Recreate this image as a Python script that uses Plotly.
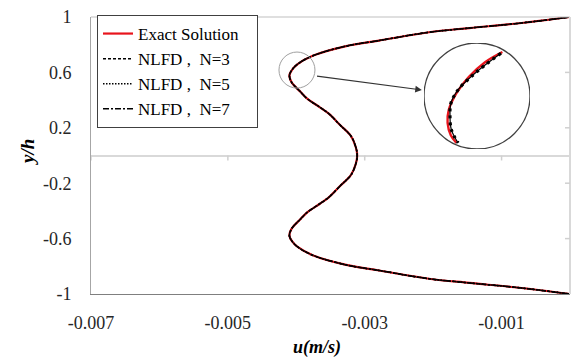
import plotly.graph_objects as go

# ---------------- data ----------------
y_h = [-1.0, -0.955, -0.92, -0.89, -0.83, -0.79, -0.72, -0.66, -0.62, -0.58,
       -0.53, -0.46, -0.41, -0.35, -0.30, -0.22, -0.14, -0.06, 0.0,
       0.06, 0.14, 0.22, 0.30, 0.35, 0.41, 0.46, 0.53, 0.58, 0.62,
       0.66, 0.72, 0.79, 0.83, 0.89, 0.92, 0.955, 1.0]
u_exact = [0.0, -0.00074, -0.00147, -0.00206, -0.00279, -0.00327, -0.00376, -0.00398, -0.00406, -0.00410,
           -0.00407, -0.00394, -0.00384, -0.00366, -0.00352, -0.00336, -0.00320, -0.00313, -0.00311,
           -0.00313, -0.00320, -0.00336, -0.00352, -0.00366, -0.00384, -0.00394, -0.00407, -0.00410, -0.00406,
           -0.00398, -0.00376, -0.00327, -0.00279, -0.00206, -0.00147, -0.00074, 0.0]
u_nlfd3 = list(u_exact)
u_nlfd5 = list(u_exact)
u_nlfd7 = list(u_exact)

# zoomed detail (inset)
inset_y_exact = [0.725, 0.700, 0.664, 0.624, 0.583, 0.551, 0.521, 0.502]
inset_u_exact = [-0.003864, -0.003950, -0.004030, -0.004092, -0.004130, -0.004136, -0.004120, -0.004092]
inset_y_nlfd = [0.722, 0.693, 0.664, 0.632, 0.600, 0.565, 0.534, 0.502]
inset_u_nlfd = [-0.003871, -0.003950, -0.004020, -0.004084, -0.004119, -0.004124, -0.004117, -0.004084]

x_ticks = [-0.007, -0.005, -0.003, -0.001]
x_tick_text = ["-0.007", "-0.005", "-0.003", "-0.001"]
y_ticks = [-1, -0.6, -0.2, 0.2, 0.6, 1]
y_tick_text = ["-1", "-0.6", "-0.2", "0.2", "0.6", "1"]

names = ["Exact Solution\u00a0\u00a0\u00a0", "NLFD\u00a0,\u00a0\u00a0N=3", "NLFD\u00a0,\u00a0\u00a0N=5", "NLFD\u00a0,\u00a0\u00a0N=7"]

# ---------------- figure ----------------
RED = "#e8141c"
SERIF = "'Liberation Serif', 'Times New Roman', 'DejaVu Serif', serif"

fig = go.Figure()
fig.add_trace(go.Scatter(x=u_exact, y=y_h, mode="lines", name=names[0],
                         line=dict(color=RED, width=2.2, shape="spline")))
fig.add_trace(go.Scatter(x=u_nlfd3, y=y_h, mode="lines", name=names[1],
                         line=dict(color="black", width=1.5, dash="3px,2px", shape="spline")))
fig.add_trace(go.Scatter(x=u_nlfd5, y=y_h, mode="lines", name=names[2],
                         line=dict(color="black", width=1.5, dash="1.5px,1.5px", shape="spline")))
fig.add_trace(go.Scatter(x=u_nlfd7, y=y_h, mode="lines", name=names[3],
                         line=dict(color="black", width=1.5, dash="6px,2px,2px,2px", shape="spline")))

# inset traces
fig.add_trace(go.Scatter(x=inset_u_exact, y=inset_y_exact, mode="lines", showlegend=False,
                         line=dict(color=RED, width=2.4, shape="spline"), xaxis="x3", yaxis="y3"))
fig.add_trace(go.Scatter(x=inset_u_nlfd, y=inset_y_nlfd, mode="lines", showlegend=False,
                         line=dict(color="black", width=1.2, shape="spline"), xaxis="x3", yaxis="y3"))
fig.add_trace(go.Scatter(x=inset_u_nlfd, y=inset_y_nlfd, mode="lines", showlegend=False,
                         line=dict(color="black", width=3.2, dash="3px,4px", shape="spline"), xaxis="x3", yaxis="y3"))

# geometry
L, R, T, B = 91, 3, 17, 64
W, H = 573, 358
PW, PH = W - L - R, H - T - B

c_u, c_y = -0.00399, 0.617      # centre of the magnified region
h_u, h_y = 0.000263, 0.130      # half-size of the magnified region
big_cx, big_cy, big_r = 477, 96, 53  # inset circle in pixels

def px2paper_x(px):
    return (px - L) / PW

def py2paper_y(py):
    return (H - B - py) / PH

shapes = [
    dict(type="line", xref="paper", yref="paper", x0=0, x1=1, y0=1, y1=1,
         line=dict(color="#bfbfbf", width=1)),
    dict(type="line", xref="paper", yref="paper", x0=1, x1=1, y0=0, y1=1,
         line=dict(color="#d9d9d9", width=2)),
    dict(type="circle", xref="x", yref="y", x0=c_u - h_u, x1=c_u + h_u, y0=c_y - h_y, y1=c_y + h_y,
         line=dict(color="#a0a0a0", width=1)),
    dict(type="circle", xref="x3", yref="y3", x0=c_u - h_u, x1=c_u + h_u, y0=c_y - h_y, y1=c_y + h_y,
         line=dict(color="#404040", width=1.3)),
]
for xt in x_ticks:
    shapes.append(dict(type="line", xref="x", yref="y", ysizemode="pixel", yanchor=0,
                       x0=xt, x1=xt, y0=0, y1=-5, line=dict(color="#d0d0d0", width=1.5)))
for yt in y_ticks[1:-1]:
    shapes.append(dict(type="line", xref="x", yref="y", xsizemode="pixel", xanchor=0,
                       x0=0, x1=-5, y0=yt, y1=yt, line=dict(color="#d0d0d0", width=1.5)))

annotations = [
    dict(x=-0.002165, y=0.473, xref="x", yref="y", ax=-0.003719, ay=0.574, axref="x", ayref="y",
         showarrow=True, arrowhead=2, arrowsize=1.1, arrowwidth=1.2, arrowcolor="#333333", text=""),
    dict(x=px2paper_x(317), y=py2paper_y(347), xref="paper", yref="paper", showarrow=False,
         text="<b><i>u(m/s)</i></b>", font=dict(family=SERIF, size=18, color="black"),
         xanchor="center", yanchor="middle"),
    dict(x=px2paper_x(27), y=py2paper_y(152), xref="paper", yref="paper", showarrow=False,
         text="<b><i>y/h</i></b>", textangle=-90, font=dict(family=SERIF, size=19, color="black"),
         xanchor="center", yanchor="middle"),
]

tickfont = dict(family=SERIF, size=18, color="#262626")

fig.update_layout(
    width=W, height=H, autosize=False,
    margin=dict(l=L, r=R, t=T, b=B, pad=0),
    paper_bgcolor="white", plot_bgcolor="white",
    font=dict(family=SERIF),
    showlegend=True,
    legend=dict(x=px2paper_x(97), y=py2paper_y(15), xanchor="left", yanchor="top",
                bgcolor="white", bordercolor="#404040", borderwidth=1,
                font=dict(family=SERIF, size=17, color="black"), tracegroupgap=0,
                itemwidth=30),
    xaxis=dict(range=[-0.007, 0], tickmode="array", tickvals=x_ticks, ticktext=x_tick_text,
               showgrid=False, zeroline=False, showline=True, linecolor="#7f7f7f", linewidth=1,
               ticks="", ticklabelstandoff=12, tickfont=tickfont),
    yaxis=dict(range=[-1, 1], tickmode="array", tickvals=y_ticks, ticktext=y_tick_text,
               showgrid=False, zeroline=True, zerolinecolor="#d9d9d9", zerolinewidth=2,
               showline=True, linecolor="#a6a6a6", linewidth=1,
               ticks="", ticklabelstandoff=15, tickfont=tickfont),
    xaxis3=dict(domain=[px2paper_x(big_cx - big_r), px2paper_x(big_cx + big_r)],
                range=[c_u - h_u, c_u + h_u], anchor="y3", visible=False),
    yaxis3=dict(domain=[py2paper_y(big_cy + big_r), py2paper_y(big_cy - big_r)],
                range=[c_y - h_y, c_y + h_y], anchor="x3", visible=False),
    shapes=shapes,
    annotations=annotations,
)

fig.write_html("out.html")
